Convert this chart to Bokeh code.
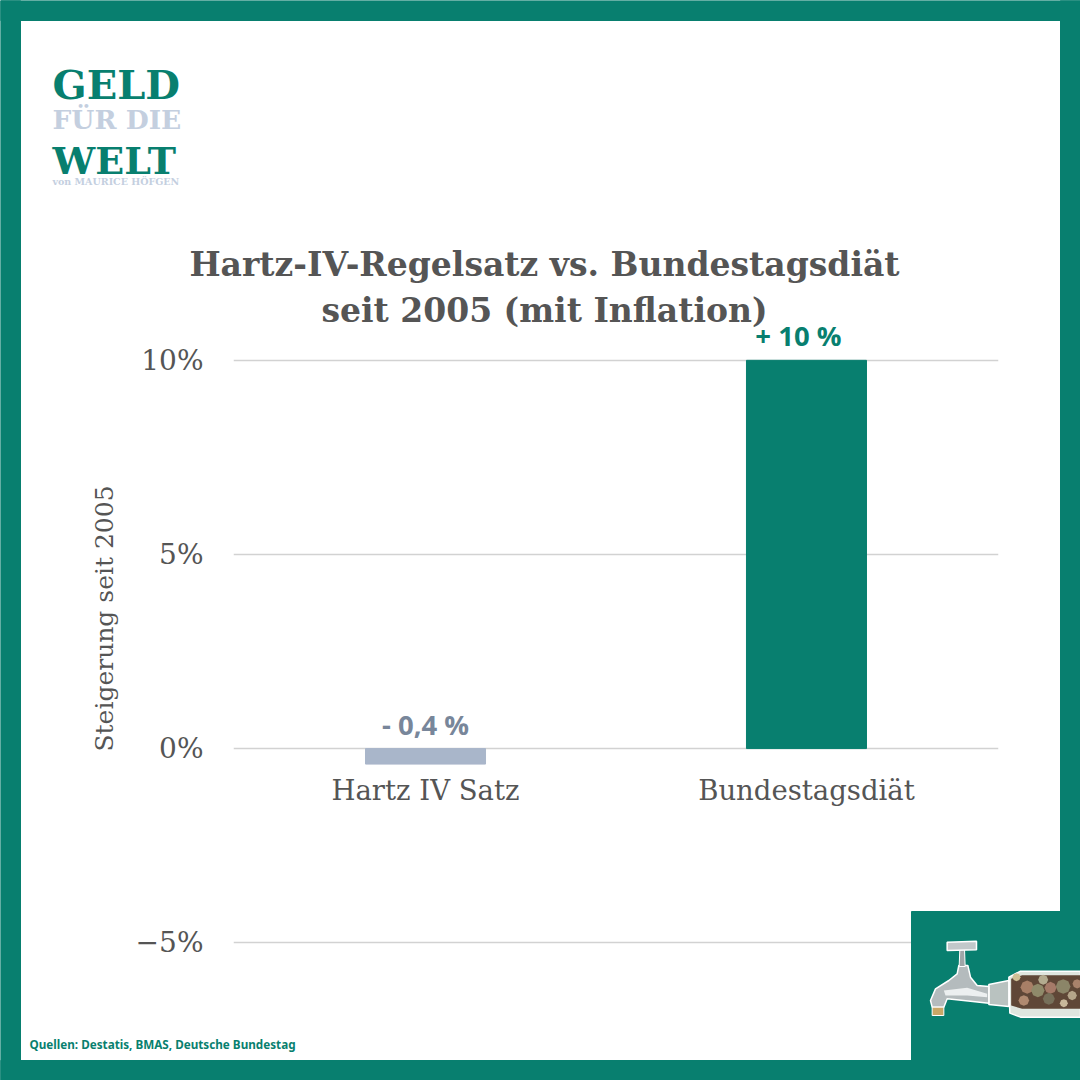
from math import pi

from bokeh.core.properties import value
from bokeh.embed import file_html
from bokeh.models import FactorRange, FixedTicker, Range1d
from bokeh.plotting import figure
from bokeh.resources import INLINE

categories = ["Hartz IV Satz", "Bundestagsdiät"]
values = [-0.4, 10]
value_labels = ["- 0,4 %", "+ 10 %"]
bar_colors = ["#a9b6ca", "#087f6f"]
label_colors = ["#78869a", "#087f6f"]
label_shift = [0, -8]
y_ticks = [-5, 0, 5, 10]
y_tick_labels = {-5: "−5%", 0: "0%", 5: "5%", 10: "10%"}

TEAL = "#087f6f"
SERIF = "DejaVu Serif"

template = """
{% block preamble %}
<style>
html, body { margin: 0; overflow: hidden; }
.layer { position: absolute; left: 0; top: 0; }
</style>
{% endblock %}
{% block contents %}
<div class="layer">{{ embed(roots[0]) }}</div>
<div class="layer">{{ embed(roots[1]) }}</div>
{% endblock %}
"""

p = figure(x_range=FactorRange(factors=categories, range_padding=0.004, factor_padding=0),
           y_range=Range1d(-6, 11),
           width=1080, height=1080,
           min_border_left=233, min_border_right=82, min_border_top=321, min_border_bottom=99,
           output_backend="svg", toolbar_location=None, outline_line_color=None)

p.vbar(x=categories, top=values, bottom=0, width=0.315, color=bar_colors)
p.text(x=categories, y=[0, 10], text=value_labels, text_color=label_colors,
       x_offset=label_shift, y_offset=-6, text_align="center", text_baseline="bottom",
       text_font_size="27.5px", text_font_style="bold", text_font=value("Open Sans"))

p.xgrid.visible = False
p.ygrid.grid_line_color = "#d2d2d2"
p.ygrid.grid_line_width = 1.5
p.ygrid.ticker = FixedTicker(ticks=y_ticks)

# category names sit right under the zero line, far above the frame bottom
p.xaxis.axis_line_color = None
p.xaxis.major_tick_line_color = None
p.xaxis.major_label_standoff = -214
p.xaxis.major_label_text_font = SERIF
p.xaxis.major_label_text_font_size = "27.5px"
p.xaxis.major_label_text_color = "#555555"

p.yaxis.ticker = FixedTicker(ticks=y_ticks)
p.yaxis.major_label_overrides = y_tick_labels
p.yaxis.axis_line_color = None
p.yaxis.major_tick_line_color = None
p.yaxis.major_label_standoff = 24
p.yaxis.major_label_text_font = SERIF
p.yaxis.major_label_text_font_size = "28px"
p.yaxis.major_label_text_color = "#555555"

# transparent layer for everything outside the plot area, in page pixels
d = figure(x_range=(0, 1080), y_range=(1080, 0), width=1080, height=1080,
           min_border=0, output_backend="svg", toolbar_location=None, outline_line_color=None,
           background_fill_color=None, border_fill_color=None, x_axis_location=None, y_axis_location=None)
d.xgrid.visible = False
d.ygrid.visible = False


def text(x, y, s, size, color, font=SERIF, align="center", style="bold"):
    d.text(x=[x], y=[y], text=[s], text_font=value(font), text_font_size=size, text_font_style=style,
           text_color=color, text_align=align, text_baseline="alphabetic")


def zpoly(pts, fill, line=None, width=1):
    d.patch([880 + a / 3 for a, b in pts], [880 + b / 3 for a, b in pts],
            fill_color=fill, line_color=line, line_width=width)


# teal border and corner
d.quad(left=[0, 0, 1060, 0, 911], right=[1080, 20, 1080, 1080, 1060],
       top=[0, 0, 0, 1060, 911], bottom=[20, 1080, 1080, 1080, 1060], color=TEAL)

text(544, 264, "Hartz-IV-Regelsatz vs. Bundestagsdiät", "33px", "#555555")
text(544, 310, "seit 2005 (mit Inflation)", "33px", "#555555")

d.text(x=[104], y=[618], text=["Steigerung seit 2005"], angle=pi / 2, text_font=value(SERIF),
       text_font_size="25px", text_color="#555555", text_align="center", text_baseline="middle")

# logo
text(52, 84, "GELD", "40px", TEAL, align="left")
text(52, 119, "FÜR DIE", "26.5px", "#c4cfdf", align="left")
text(52, 160, "WELT", "38px", TEAL, align="left")
text(52, 181, "von MAURICE HÖFGEN", "9.5px", "#c4cfdf", align="left")

text(29, 1043, "Quellen: Destatis, BMAS, Deutsche Bundestag", "11.7px", TEAL, font="Noto Sans", align="left")

# the tap
zpoly([(385, 290), (420, 272), (600, 272), (600, 410), (420, 410), (388, 398)], "#dfe6df", "#ffffff", 1.5)
zpoly([(392, 295), (425, 284), (600, 284), (600, 385), (425, 385), (392, 375)], "#5f4737")
for cx, cy, r, c in [(440, 320, 20, "#a87f66"), (472, 330, 20, "#8f8a6a"), (488, 298, 15, "#b3ab8f"),
                     (510, 322, 18, "#a57a68"), (548, 318, 22, "#8b8568"), (430, 360, 16, "#b08a70"),
                     (505, 355, 18, "#77705a"), (575, 345, 14, "#b5a58a"), (590, 310, 14, "#a9826b"),
                     (408, 290, 12, "#cdbf95"), (550, 368, 12, "#c8b89a")]:
    zpoly([(cx + r * a, cy + r * b) for a, b in
           [(1, 0), (.7, .7), (0, 1), (-.7, .7), (-1, 0), (-.7, -.7), (0, -1), (.7, -.7)]], c)
zpoly([(325, 312), (385, 300), (385, 378), (325, 372)], "#b9c2c0", "#ffffff", 1.5)
zpoly([(235, 255), (262, 255), (270, 290), (290, 315), (325, 318), (325, 368), (270, 362), (200, 355),
       (190, 380), (155, 380), (150, 360), (165, 325), (205, 300), (230, 280)], "#b4bbbd", "#ffffff", 1.5)
zpoly([(190, 330), (260, 322), (320, 340), (320, 350), (260, 345), (195, 345)], "#eceff0")
zpoly([(238, 205), (252, 205), (254, 258), (236, 258)], "#9fa6a8", "#ffffff", 1)
zpoly([(200, 185), (288, 182), (288, 208), (200, 210)], "#c2c8ca", "#ffffff", 1.5)
zpoly([(155, 380), (190, 380), (190, 405), (155, 405)], "#c9a766", "#ffffff", 1)

open("out.html", "w").write(file_html([p, d], INLINE, template=template))
